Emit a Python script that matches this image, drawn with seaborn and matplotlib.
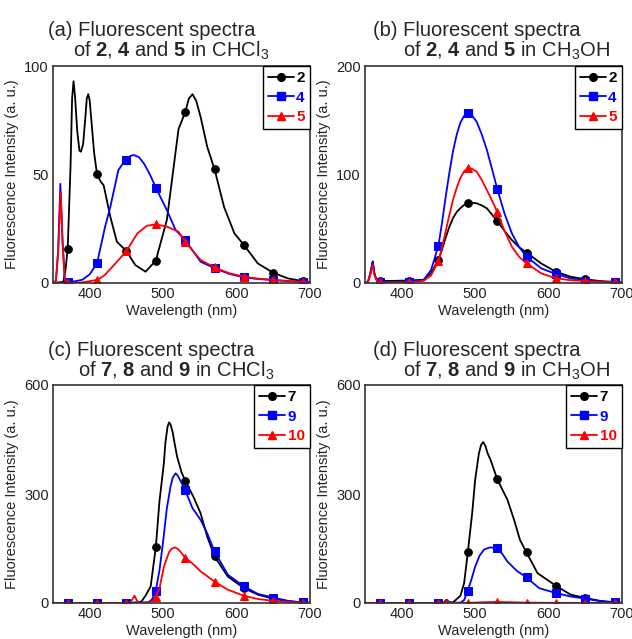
import matplotlib
matplotlib.use("Agg")
import matplotlib.pyplot as plt
from matplotlib.lines import Line2D
import seaborn as sns

# marker positions (nm)
marks = [370, 410, 450, 490, 530, 570, 610, 650, 690]

# (a) 2, 4, 5 in CHCl3
wl_a2 = [350, 364, 367, 370, 374, 376, 378, 380, 383, 386, 388, 391, 394, 396, 398, 400, 403, 406,
         410, 415, 419, 428, 437, 450, 462, 476, 490, 505, 521, 530, 535, 540, 545, 551, 560,
         570, 583, 597, 610, 629, 650, 670, 690, 700]
int_a2 = [0, 0.5, 6, 15.7, 55, 85, 93, 86, 70, 61, 60.5, 64, 76, 85, 87, 84, 72, 60,
          50, 46.7, 45, 30.6, 19, 14.7, 8.3, 5.2, 10.3, 29, 71, 78.6, 85, 87, 84, 76.6, 62.8,
          52.4, 35, 22.9, 17.5, 9, 4.7, 2.1, 0.9, 0.5]
wl_a4 = [350, 354, 357, 360, 363, 366, 370, 380, 390, 400, 410, 421, 428, 439, 445, 450, 455, 460,
         467, 474, 482, 490, 505, 517, 530, 551, 570, 590, 610, 630, 650, 670, 690, 700]
int_a4 = [0, 1, 15, 45.7, 20, 2, 0.6, 0.8, 1.5, 4, 9.1, 26, 35, 52, 55, 56.7, 58.5, 59,
          58, 55, 50, 44, 33.6, 24.4, 19.8, 9.8, 6.8, 4.2, 2.6, 1.8, 1.4, 0.9, 0.5, 0.4]
wl_a5 = [350, 354, 357, 360.5, 363, 366, 370, 390, 410, 420, 435, 450, 465, 478, 490, 505, 521, 530,
         551, 570, 590, 610, 630, 650, 670, 690, 700]
int_a5 = [0, 1, 14, 42, 18, 1.5, 0, 0.3, 1.4, 3.5, 9, 14.7, 22.9, 26.4, 27, 26, 23.6, 19,
          10.6, 7.2, 4.5, 2.9, 2, 1.4, 0.9, 0.5, 0.4]

# (b) 2, 4, 5 in CH3OH
wl_b = [350, 354, 357, 360.5, 363, 367, 370, 390, 410, 430, 440, 450, 455, 460, 465, 470, 475, 480,
        485, 490, 495, 502, 509, 516, 523, 530, 540, 550, 560, 570, 590, 610, 630, 650, 670, 690, 700]
int_b2 = [0, 1, 8, 19.6, 8, 1, 1.8, 2, 2.3, 3, 9, 21.2, 31, 42, 52, 60, 65.5, 69,
          72, 73.4, 74, 73.5, 71.5, 68.8, 63, 57.1, 48, 39.6, 33, 28, 18, 10.4, 5.8, 3.4, 1.8, 1, 0.6]
int_b4 = [0, 1, 8, 20, 8, 1, 1, 1, 1.2, 3, 12, 34.4, 56, 80, 102, 122, 137, 148,
          154, 156.4, 155, 148.7, 137, 122.6, 105, 87, 64, 45.8, 33, 24.3, 13.5, 8.3, 4.3, 2.1, 1.2, 0.8, 0.5]
int_b5 = [0, 1, 7, 16.6, 7, 0.5, 0.5, 0.5, 0.5, 2, 7, 20.3, 33, 48, 63, 77, 88, 97,
          103, 105.7, 105.5, 102.6, 95, 85.7, 76, 65.7, 48, 33.5, 24, 18.1, 8.9, 4.3, 2.6, 1.8, 1, 0.5, 0.3]

# (c) 7, 9, 10 in CHCl3
wl_c7 = [350, 370, 410, 450, 460, 470, 476, 483, 490, 495, 501, 503, 506, 508, 510, 513, 516, 519,
         525, 530, 542, 551, 560, 570, 588, 610, 629, 650, 670, 690, 700]
int_c7 = [0, 0, 0, 0, 1, 3, 20, 46, 153, 280, 385, 440, 485, 497, 492, 470, 435, 403,
          360, 337, 289, 247, 183, 128, 73, 41, 23, 11.8, 5, 1.4, 0.5]
wl_c9 = [350, 370, 410, 450, 480, 485, 490, 495, 500, 505, 510, 513, 517, 520, 524, 530, 540, 551,
         560, 570, 588, 610, 629, 650, 670, 690, 700]
int_c9 = [0, 0, 0, 0, 2, 10, 34, 90, 170, 260, 320, 345, 357, 350, 335, 310, 261, 229,
          192, 142, 78, 45.6, 25, 15, 6, 1.4, 0.5]
wl_c10 = [350, 370, 410, 450, 455, 458, 461, 464, 467, 480, 486, 490, 495, 501, 508, 512, 516, 520,
          524, 530, 542, 551, 570, 588, 610, 629, 650, 670, 690, 700]
int_c10 = [0, 0, 0, 0, 0, 10, 20, 8, 0, 1, 6, 16.5, 40, 100, 140, 150, 153, 149,
           140, 125, 105, 87, 59, 36.6, 20, 11, 6, 3, 1, 0.5]

# (d) 7, 9, 10 in CH3OH
wl_d7 = [350, 370, 410, 450, 457, 461, 465, 470, 480, 485, 490, 496, 500, 505, 508, 511, 514, 517,
         521, 530, 544, 553, 561, 570, 585, 610, 630, 650, 670, 690, 700]
int_d7 = [0, 0, 0, 0, 1, 9, 2, 2, 20, 55, 139, 248, 339, 410, 435, 443, 432, 412,
          394, 341, 284, 229, 174, 139, 82, 47.5, 23, 13.7, 6, 2, 0.5]
wl_d9 = [350, 370, 410, 450, 480, 485, 490, 495, 500, 506, 512, 520, 530, 537, 544, 557, 570, 587,
         610, 630, 650, 670, 690, 700]
int_d9 = [0, 0, 0, 0, 1, 8, 34, 65, 100, 130, 147, 153, 151, 135, 114, 88, 70.5, 41,
          27.4, 18, 12, 5, 1.5, 0.5]
wl_d10 = [350, 370, 410, 450, 457, 461, 465, 490, 510, 530, 550, 570, 610, 650, 690, 700]
int_d10 = [0, 0, 0, 0, 1, 6, 0, 0.5, 2, 3, 2, 1, 0.5, 0.3, 0.2, 0]

titles = [
    ("(a) Fluorescent spectra", r"of $\mathbf{2}$, $\mathbf{4}$ and $\mathbf{5}$ in CHCl$_3$"),
    ("(b) Fluorescent spectra", r"of $\mathbf{2}$, $\mathbf{4}$ and $\mathbf{5}$ in CH$_3$OH"),
    ("(c) Fluorescent spectra", r"of $\mathbf{7}$, $\mathbf{8}$ and $\mathbf{9}$ in CHCl$_3$"),
    ("(d) Fluorescent spectra", r"of $\mathbf{7}$, $\mathbf{8}$ and $\mathbf{9}$ in CH$_3$OH"),
]
labels_top = ["2", "4", "5"]
labels_bot = ["7", "9", "10"]
ymax = [100, 200, 600, 600]
yticks = [[0, 50, 100], [0, 100, 200], [0, 300, 600], [0, 300, 600]]

sns.set_style("white")
plt.rcParams["font.family"] = ["Liberation Sans", "DejaVu Sans"]
plt.rcParams["mathtext.fontset"] = "custom"
plt.rcParams["mathtext.rm"] = "Liberation Sans"
plt.rcParams["mathtext.bf"] = "Liberation Sans:bold"
plt.rcParams["mathtext.it"] = "Liberation Sans:italic"

colors = ["black", "#0000ff", "#ff0000"]
mstyle = [("o", 5.5), ("s", 6), ("^", 5.5)]

W, H = 632, 639
fig = plt.figure(figsize=(W / 100, H / 100), dpi=100)

# axes boxes in pixels: left, top, right, bottom
boxes = [(53, 66, 310, 283), (365, 66, 622, 283), (53, 385, 310, 603), (365, 385, 622, 603)]
panels = [
    [(wl_a2, int_a2), (wl_a4, int_a4), (wl_a5, int_a5)],
    [(wl_b, int_b2), (wl_b, int_b4), (wl_b, int_b5)],
    [(wl_c7, int_c7), (wl_c9, int_c9), (wl_c10, int_c10)],
    [(wl_d7, int_d7), (wl_d9, int_d9), (wl_d10, int_d10)],
]
title_pos = [((48, 36), (73, 57)), ((373, 36), (403, 57)),
             ((48, 356), (78, 377)), ((373, 356), (403, 377))]

for k in range(4):
    l, t, r, b = boxes[k]
    ax = fig.add_axes([l / W, 1 - b / H, (r - l) / W, (b - t) / H])
    for j, (wl, yv) in enumerate(panels[k]):
        idx = [i for i, w in enumerate(wl) if w in marks]
        sns.lineplot(x=wl, y=yv, ax=ax, color=colors[j], lw=1.3, marker=mstyle[j][0],
                     ms=mstyle[j][1], mec=colors[j], markevery=idx, errorbar=None, sort=False)
    ax.set_xlim(350, 700)
    ax.set_ylim(0, ymax[k])
    ax.set_xticks([400, 500, 600, 700])
    ax.set_yticks(yticks[k])
    ax.tick_params(length=0, labelsize=10.5, pad=3, colors="#222222")
    ax.set_xlabel("Wavelength (nm)", fontsize=10.5, labelpad=2)
    ax.set_ylabel("Fluorescence Intensity (a. u.)", fontsize=10.5, labelpad=4)
    for s in ax.spines.values():
        s.set_color("#333333")
        s.set_linewidth(1.2)

    labs = labels_top if k < 2 else labels_bot
    handles = [Line2D([], [], color=colors[j], lw=1.3, marker=mstyle[j][0], ms=mstyle[j][1])
               for j in range(3)]
    leg = ax.legend(handles, labs, loc="upper right", borderaxespad=0, fancybox=False,
                    framealpha=1, edgecolor="black", handlelength=1.7, handletextpad=0.15,
                    labelspacing=0.35, borderpad=0.35, prop={"weight": "bold", "size": 11})
    leg.get_frame().set_linewidth(1.0)
    for j, txt in enumerate(leg.get_texts()):
        txt.set_color(colors[j])

    (x1, y1), (x2, y2) = title_pos[k]
    fig.text(x1 / W, 1 - y1 / H, titles[k][0], fontsize=14.5, ha="left", va="baseline")
    fig.text(x2 / W, 1 - y2 / H, titles[k][1], fontsize=14.5, ha="left", va="baseline")

fig.savefig("out.png", dpi=100)
